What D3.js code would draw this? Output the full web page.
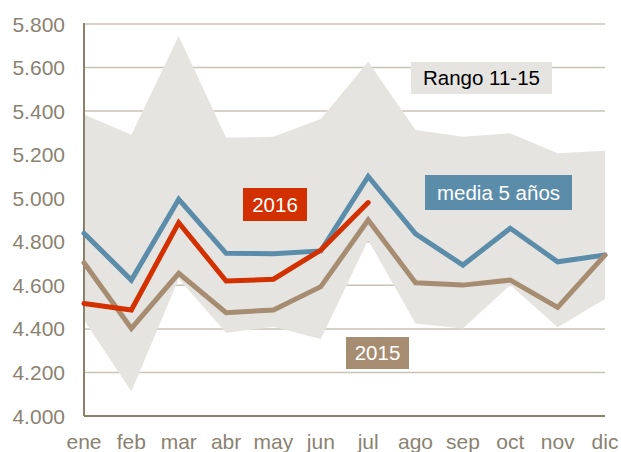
<!DOCTYPE html>
<html><head><meta charset="utf-8">
<script src="https://cdn.jsdelivr.net/npm/d3@7"></script>
<style>html,body{margin:0;padding:0;background:#fff;}svg{display:block;}</style>
</head><body>
<svg id="chart" width="621" height="452"></svg>
<script>
const months = ["ene","feb","mar","abr","may","jun","jul","ago","sep","oct","nov","dic"];
const rangeHigh = [5385,5292,5745,5278,5282,5364,5627,5313,5282,5298,5206,5218];
const rangeLow  = [4441,4112,4630,4382,4410,4353,4808,4425,4402,4601,4407,4537];
const media5    = [4839,4624,4995,4747,4745,4758,5100,4836,4693,4862,4708,4739];
const y2015     = [4704,4402,4655,4474,4487,4594,4900,4612,4601,4624,4499,4739];
const y2016     = [4517,4487,4888,4620,4628,4762,4980];
const yTicks    = [4000,4200,4400,4600,4800,5000,5200,5400,5600,5800];

const svg = d3.select("#chart");
const mLeft = 84, mRight = 605, mTop = 24, mBottom = 416;
const x = d3.scalePoint().domain(months).range([mLeft, mRight]).padding(0);
const y = d3.scaleLinear().domain([4000, 5800]).range([mBottom, mTop]);
const fmt = v => d3.format(".3f")(v/1000);

// gridlines
svg.append("g").selectAll("line").data(yTicks.filter(t => t > 4000)).join("line")
  .attr("x1", mLeft).attr("x2", mRight)
  .attr("y1", d => y(d)).attr("y2", d => y(d))
  .attr("stroke", "#c9c3b7").attr("stroke-width", 1.5);

// range area
const area = d3.area().x((d, i) => x(months[i])).y0((d, i) => y(rangeLow[i])).y1(d => y(d));
svg.append("path").datum(rangeHigh).attr("d", area).attr("fill", "#e6e4e1");

// axes lines
svg.append("line").attr("x1", mLeft).attr("x2", mLeft).attr("y1", mTop - 1).attr("y2", mBottom)
  .attr("stroke", "#8b8069").attr("stroke-width", 2);
svg.append("line").attr("x1", mLeft).attr("x2", mRight).attr("y1", mBottom).attr("y2", mBottom)
  .attr("stroke", "#8b8069").attr("stroke-width", 2);

// y tick labels
svg.append("g").selectAll("text").data(yTicks).join("text")
  .attr("x", 65).attr("y", d => y(d)).attr("dy", "0.36em")
  .attr("text-anchor", "end")
  .attr("font-family", "Liberation Sans, Arial, sans-serif").attr("font-size", 21)
  .attr("fill", "#8a8270").text(fmt);

// x labels
svg.append("g").selectAll("text").data(months).join("text")
  .attr("x", d => x(d)).attr("y", 448.5).attr("text-anchor", "middle")
  .attr("font-family", "Liberation Sans, Arial, sans-serif").attr("font-size", 21)
  .attr("fill", "#8a8270").text(d => d);

const line = d3.line().x((d, i) => x(months[i])).y(d => y(d));
function drawLine(data, color) {
  svg.append("path").datum(data).attr("d", line).attr("fill", "none")
    .attr("stroke", color).attr("stroke-width", 5).attr("stroke-linejoin", "miter")
    .attr("stroke-linecap", "round");
}
drawLine(media5, "#5b8daa");
drawLine(y2015, "#a68d72");
drawLine(y2016, "#d33000");

// labels
function label(x0, y0, w, h, fill, color, txt) {
  svg.append("rect").attr("x", x0).attr("y", y0).attr("width", w).attr("height", h).attr("fill", fill);
  svg.append("text").attr("x", x0 + w/2).attr("y", y0 + h/2).attr("dy", "0.36em")
    .attr("text-anchor", "middle").attr("font-family", "Liberation Sans, Arial, sans-serif")
    .attr("font-size", 20.5).attr("fill", color).text(txt);
}
label(411, 62, 141, 32, "#e6e4e1", "#000", "Rango 11-15");
label(425, 175, 147, 35, "#5b8daa", "#fff", "media 5 años");
label(243, 188, 64, 33, "#d33000", "#fff", "2016");
label(346, 337, 63, 32, "#a68d72", "#fff", "2015");
</script>
</body></html>
